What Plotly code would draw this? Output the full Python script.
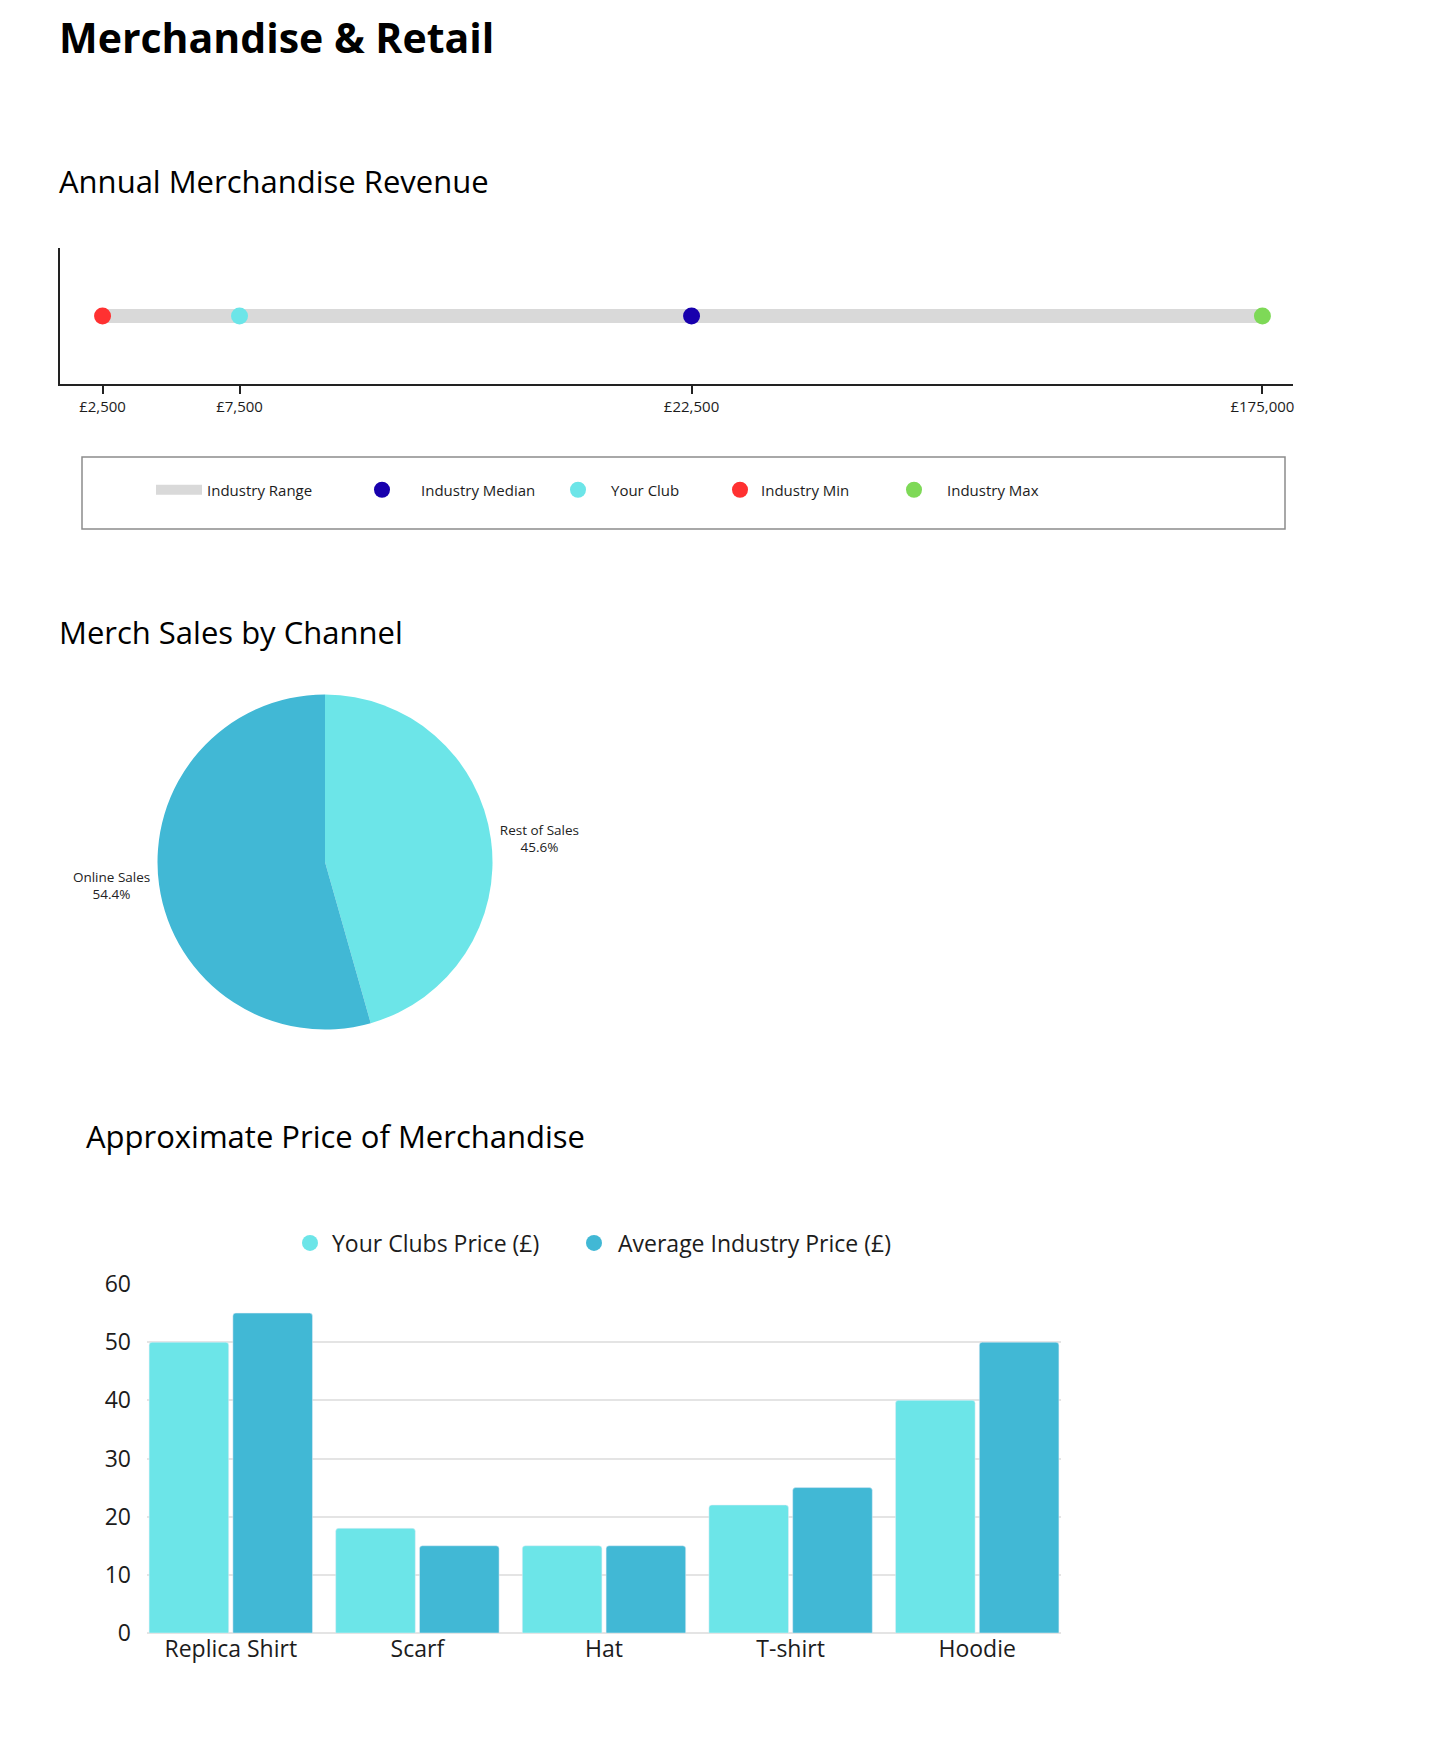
import numpy as np
import plotly.graph_objects as go

# ---------------- data ----------------
REVENUE_SERIES = ["Industry Median", "Your Club", "Industry Min", "Industry Max"]
REVENUE_VALUES = [22500, 7500, 2500, 175000]
REVENUE_TICK_VALUES = [2500, 7500, 22500, 175000]
REVENUE_TICK_TEXT = ["£2,500", "£7,500", "£22,500", "£175,000"]

CHANNEL_LABELS = ["Rest of Sales", "Online Sales"]
CHANNEL_SHARES = [45.6, 54.4]

PRODUCTS = ["Replica Shirt", "Scarf", "Hat", "T-shirt", "Hoodie"]
CLUB_PRICES = [50, 18, 15, 22, 40]
INDUSTRY_PRICES = [55, 15, 15, 25, 50]

# ---------------- styling / layout ----------------
PAGE_OFF = 8                      # default body margin of the html page
W, H = 1449 - PAGE_OFF, 1740 - PAGE_OFF
FONT = "Open Sans"
TXT = "#1c1c1c"
C_RANGE = "#d9d9d9"
C_MEDIAN = "#1800ad"
C_CLUB = "#6ce5e8"
C_MIN = "#ff3131"
C_MAX = "#7ed957"
C_IND = "#41b8d5"
SERIES_COLORS = {"Industry Median": C_MEDIAN, "Your Club": C_CLUB,
                 "Industry Min": C_MIN, "Industry Max": C_MAX}

# custom piecewise scale of the revenue axis: tick value -> fraction of axis length
AXIS_STOPS = [0.0345, 0.1456, 0.5122, 0.9752]


def xscale(v):
    return np.interp(v, REVENUE_TICK_VALUES, AXIS_STOPS)


def px_x(x):
    return (x - PAGE_OFF) / W


def px_y(y):
    return 1 - (y - PAGE_OFF) / H


fig = go.Figure()

# legend slot for each entry: (legend id, symbol centre x, text start x)
LEG_SLOTS = {
    "Industry Range": ("legend", 179, 207),
    "Industry Median": ("legend2", 382, 421),
    "Your Club": ("legend3", 578, 611),
    "Industry Min": ("legend4", 740, 761),
    "Industry Max": ("legend5", 914, 947),
    "Your Clubs Price (£)": ("legend6", 310, 332),
    "Average Industry Price (£)": ("legend7", 594, 618),
}
LEGEND_Y = {"legend": 490, "legend2": 490, "legend3": 490, "legend4": 490,
            "legend5": 490, "legend6": 1243, "legend7": 1243}
LEGEND_FS = {"legend": 15, "legend2": 15, "legend3": 15, "legend4": 15,
             "legend5": 15, "legend6": 23, "legend7": 23}

# ---- dumbbell / range chart ----
lo, hi = min(REVENUE_VALUES), max(REVENUE_VALUES)
fig.add_trace(go.Scatter(
    x=xscale([lo, hi]), y=[0, 0], mode="lines",
    line=dict(color=C_RANGE, width=14),
    name="Industry Range", xaxis="x", yaxis="y", legend="legend",
    hoverinfo="skip"))
for name, val in zip(REVENUE_SERIES, REVENUE_VALUES):
    fig.add_trace(go.Scatter(
        x=[xscale(val)], y=[0], mode="markers",
        marker=dict(color=SERIES_COLORS[name], size=17),
        name=name, xaxis="x", yaxis="y", legend=LEG_SLOTS[name][0],
        customdata=[val], hovertemplate="£%{customdata:,}<extra>" + name + "</extra>"))

# ---- pie ----
PIE_C, PIE_R = (325, 862), 167.5
fig.add_trace(go.Pie(
    labels=CHANNEL_LABELS, values=CHANNEL_SHARES, sort=False,
    direction="clockwise", rotation=0,
    marker=dict(colors=[C_CLUB, C_IND]),
    textposition="outside", textinfo="label+percent",
    texttemplate="%{label}<br>%{percent:.1%}",
    textfont=dict(size=13.5, color="#222222", family=FONT),
    showlegend=False,
    domain=dict(x=[px_x(PIE_C[0] - PIE_R), px_x(PIE_C[0] + PIE_R)],
                y=[px_y(PIE_C[1] + PIE_R), px_y(PIE_C[1] - PIE_R)])))

# ---- bars ----
fig.add_trace(go.Bar(x=PRODUCTS, y=CLUB_PRICES, name="Your Clubs Price (£)",
                     marker_color=C_CLUB, xaxis="x2", yaxis="y2", showlegend=False))
fig.add_trace(go.Bar(x=PRODUCTS, y=INDUSTRY_PRICES, name="Average Industry Price (£)",
                     marker_color=C_IND, xaxis="x2", yaxis="y2", showlegend=False))
for nm, col in [("Your Clubs Price (£)", C_CLUB), ("Average Industry Price (£)", C_IND)]:
    fig.add_trace(go.Scatter(x=[None], y=[None], mode="markers",
                             marker=dict(color=col, size=22), name=nm,
                             xaxis="x2", yaxis="y2", legend=LEG_SLOTS[nm][0]))

legends = {}
for nm, (lid, cx, tx) in LEG_SLOTS.items():
    iw = max(30, 2 * (tx - cx) - 10)
    origin = cx - (iw / 2 + 5)
    legends[lid] = dict(orientation="v", x=px_x(origin), xanchor="left",
                        y=px_y(LEGEND_Y[lid]), yanchor="middle", itemwidth=iw,
                        font=dict(size=LEGEND_FS[lid], color=TXT, family=FONT),
                        bgcolor="rgba(0,0,0,0)", borderwidth=0)

annotations = [
    dict(text="<b>Merchandise & Retail</b>", x=px_x(57), y=px_y(37), font=dict(size=41)),
    dict(text="Annual Merchandise Revenue", x=px_x(57), y=px_y(181), font=dict(size=31)),
    dict(text="Merch Sales by Channel", x=px_x(57), y=px_y(632), font=dict(size=31)),
    dict(text="Approximate Price of Merchandise", x=px_x(84), y=px_y(1136), font=dict(size=31)),
]
for a in annotations:
    a.update(xref="paper", yref="paper", xanchor="left", yanchor="middle", showarrow=False)
    a["font"].update(color="#000000", family=FONT)

AX_L, AX_R, AX_T, AX_B = 60, 1293, 248, 384
BAR_L, BAR_R, BAR_T, BAR_B = 147, 1061, 1284, 1633
BAR_GAP = 0.102
N_CAT = len(PRODUCTS)

fig.update_layout(
    width=W, height=H,
    margin=dict(l=0, r=0, t=0, b=0, autoexpand=False),
    paper_bgcolor="white", plot_bgcolor="white",
    font=dict(family=FONT, color=TXT),
    annotations=annotations,
    shapes=[dict(type="rect", xref="paper", yref="paper",
                 x0=px_x(82), x1=px_x(1285), y0=px_y(529), y1=px_y(457),
                 line=dict(color="#8c8c8c", width=1.5))],
    xaxis=dict(domain=[px_x(AX_L), px_x(AX_R)], range=[0, 1], showgrid=False, zeroline=False,
               showline=True, linecolor="#222222", linewidth=2,
               tickmode="array", tickvals=xscale(REVENUE_TICK_VALUES), ticktext=REVENUE_TICK_TEXT,
               ticks="outside", ticklen=8, tickwidth=1.5, tickcolor="#222222",
               tickfont=dict(size=15, color=TXT), fixedrange=True),
    xaxis3=dict(overlaying="x", anchor="y", range=[0, 1], showgrid=False, zeroline=False,
                showline=False, tickmode="array", tickvals=xscale(REVENUE_TICK_VALUES),
                showticklabels=False, ticks="inside", ticklen=8, tickwidth=1.5,
                tickcolor="#222222", fixedrange=True),
    yaxis=dict(domain=[px_y(AX_B), px_y(AX_T)], range=[-1, 1], showgrid=False, zeroline=False,
               showline=True, linecolor="#222222", linewidth=2, showticklabels=False,
               ticks="", fixedrange=True),
    xaxis2=dict(domain=[px_x(BAR_L), px_x(BAR_R)], anchor="y2", type="category",
                range=[-0.5 + BAR_GAP / 2, N_CAT - 0.5 - BAR_GAP / 2],
                showgrid=False, zeroline=False, showline=False, ticks="",
                tickfont=dict(size=23, color=TXT), fixedrange=True),
    yaxis2=dict(domain=[px_y(BAR_B), px_y(BAR_T)], anchor="x2", range=[0, 60], dtick=10,
                showgrid=True, gridcolor="#e4e4e4", gridwidth=1.5,
                zeroline=True, zerolinecolor="#e4e4e4", zerolinewidth=1.5,
                ticks="", ticklabelstandoff=15, tickfont=dict(size=23, color=TXT),
                fixedrange=True),
    barmode="group", bargap=BAR_GAP, bargroupgap=0.05, barcornerradius=3,
    **legends,
)

fig.write_html("out.html")
